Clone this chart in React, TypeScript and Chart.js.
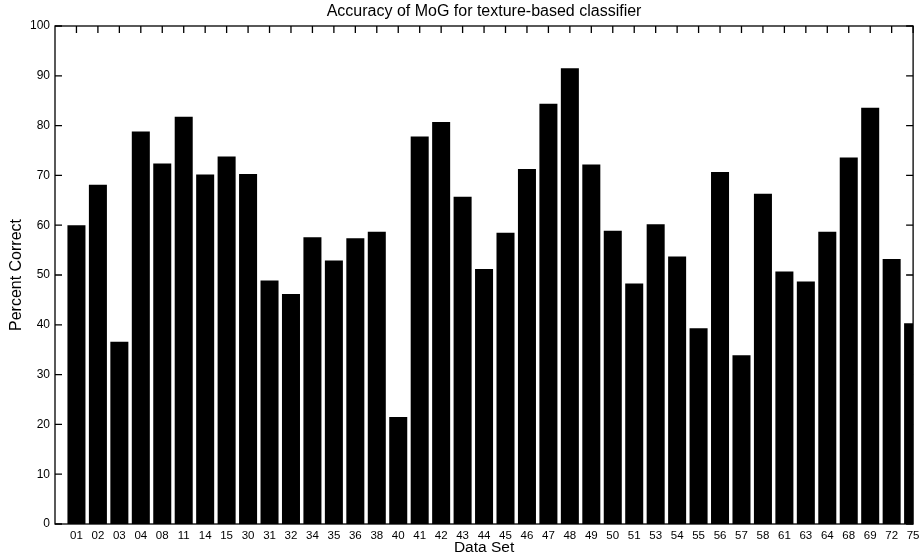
import React, { useEffect, useRef } from "react";
import { Chart, registerables } from "chart.js";

Chart.register(...registerables);

const TITLE = "Accuracy of MoG for texture-based classifier";
const X_LABEL = "Data Set";
const Y_LABEL = "Percent Correct";

const CATEGORIES = [
  "01", "02", "03", "04", "08", "11", "14", "15", "30", "31",
  "32", "34", "35", "36", "38", "40", "41", "42", "43", "44",
  "45", "46", "47", "48", "49", "50", "51", "53", "54", "55",
  "56", "57", "58", "61", "63", "64", "68", "69", "72", "75",
];

const PERCENT_CORRECT = [
  60.0, 68.1, 36.6, 78.8, 72.4, 81.8, 70.2, 73.8, 70.3, 48.9,
  46.2, 57.6, 52.9, 57.4, 58.7, 21.5, 77.8, 80.7, 65.7, 51.2,
  58.5, 71.3, 84.4, 91.5, 72.2, 58.9, 48.3, 60.2, 53.7, 39.3,
  70.7, 33.9, 66.3, 50.7, 48.7, 58.7, 73.6, 83.6, 53.2, 40.3,
];

const Y_MIN = 0;
const Y_MAX = 100;
const Y_STEP = 10;

const FONT = "'Liberation Sans', Arial, Helvetica, sans-serif";

const framePlugin = {
  id: "frame",
  afterDatasetsDraw(chart: any) {
    const { ctx, chartArea, scales } = chart;
    const { left, right, top, bottom } = chartArea;
    const x = scales.x;
    const y = scales.y;
    ctx.save();
    ctx.strokeStyle = "#000";
    ctx.lineWidth = 1.3;
    ctx.strokeRect(left, top, right - left, bottom - top);
    ctx.beginPath();
    y.ticks.forEach((t: any) => {
      const py = y.getPixelForValue(t.value);
      ctx.moveTo(left, py);
      ctx.lineTo(left + 7, py);
      ctx.moveTo(right, py);
      ctx.lineTo(right - 7, py);
    });
    x.ticks.forEach((t: any) => {
      const px = x.getPixelForValue(t.value);
      ctx.moveTo(px, top);
      ctx.lineTo(px, top + 7);
    });
    ctx.stroke();
    // title centred over the plot area
    ctx.fillStyle = "#000";
    ctx.font = `16px ${FONT}`;
    ctx.textAlign = "center";
    ctx.textBaseline = "alphabetic";
    ctx.fillText(TITLE, (left + right) / 2, 16);
    ctx.restore();
  },
};

export default function App() {
  const canvasRef = useRef<HTMLCanvasElement | null>(null);

  useEffect(() => {
    const canvas = canvasRef.current;
    if (!canvas) return;
    const chart = new Chart(canvas, {
      type: "bar",
      data: {
        datasets: [
          {
            label: Y_LABEL,
            data: PERCENT_CORRECT.map((v, i) => ({ x: i + 1, y: v })),
            backgroundColor: "#000",
            borderWidth: 0,
            barPercentage: 0.84,
            categoryPercentage: 1,
            clip: 0,
          } as any,
        ],
      },
      options: {
        responsive: false,
        animation: false,
        events: [],
        layout: { padding: { left: 0, right: 9, top: 26, bottom: 0 } },
        plugins: {
          legend: { display: false },
          tooltip: { enabled: false },
          title: { display: false },
        },
        scales: {
          x: {
            type: "linear",
            position: "bottom",
            offset: false,
            min: 0,
            max: CATEGORIES.length,
            grid: { display: false, drawTicks: false, offset: false },
            border: { display: false },
            afterBuildTicks: (scale: any) => {
              scale.ticks = CATEGORIES.map((_, i) => ({ value: i + 1 }));
            },
            afterFit: (scale: any) => {
              scale.height = 34;
            },
            ticks: {
              autoSkip: false,
              maxRotation: 0,
              minRotation: 0,
              padding: 4.5,
              color: "#000",
              font: { family: FONT, size: 11.5 },
              callback: (value: any) => CATEGORIES[Number(value) - 1] ?? "",
            },
            title: {
              display: true,
              text: X_LABEL,
              color: "#000",
              font: { family: FONT, size: 15.5 },
              padding: { top: 0, bottom: 1 },
            },
          },
          y: {
            type: "linear",
            min: Y_MIN,
            max: Y_MAX,
            grid: { display: false, drawTicks: false },
            border: { display: false },
            afterFit: (scale: any) => {
              scale.width = 55;
            },
            ticks: {
              stepSize: Y_STEP,
              padding: 5,
              color: "#000",
              font: { family: FONT, size: 12 },
            },
            title: {
              display: true,
              text: Y_LABEL,
              color: "#000",
              font: { family: FONT, size: 16 },
              padding: { top: 6.5, bottom: 0 },
            },
          },
        },
      } as any,
      plugins: [framePlugin],
    });
    return () => chart.destroy();
  }, []);

  return (
    <div style={{ position: "absolute", left: 0, top: 0, width: 924, height: 558, background: "#fff" }}>
      <canvas ref={canvasRef} width={924} height={558} style={{ display: "block" }} />
    </div>
  );
}
